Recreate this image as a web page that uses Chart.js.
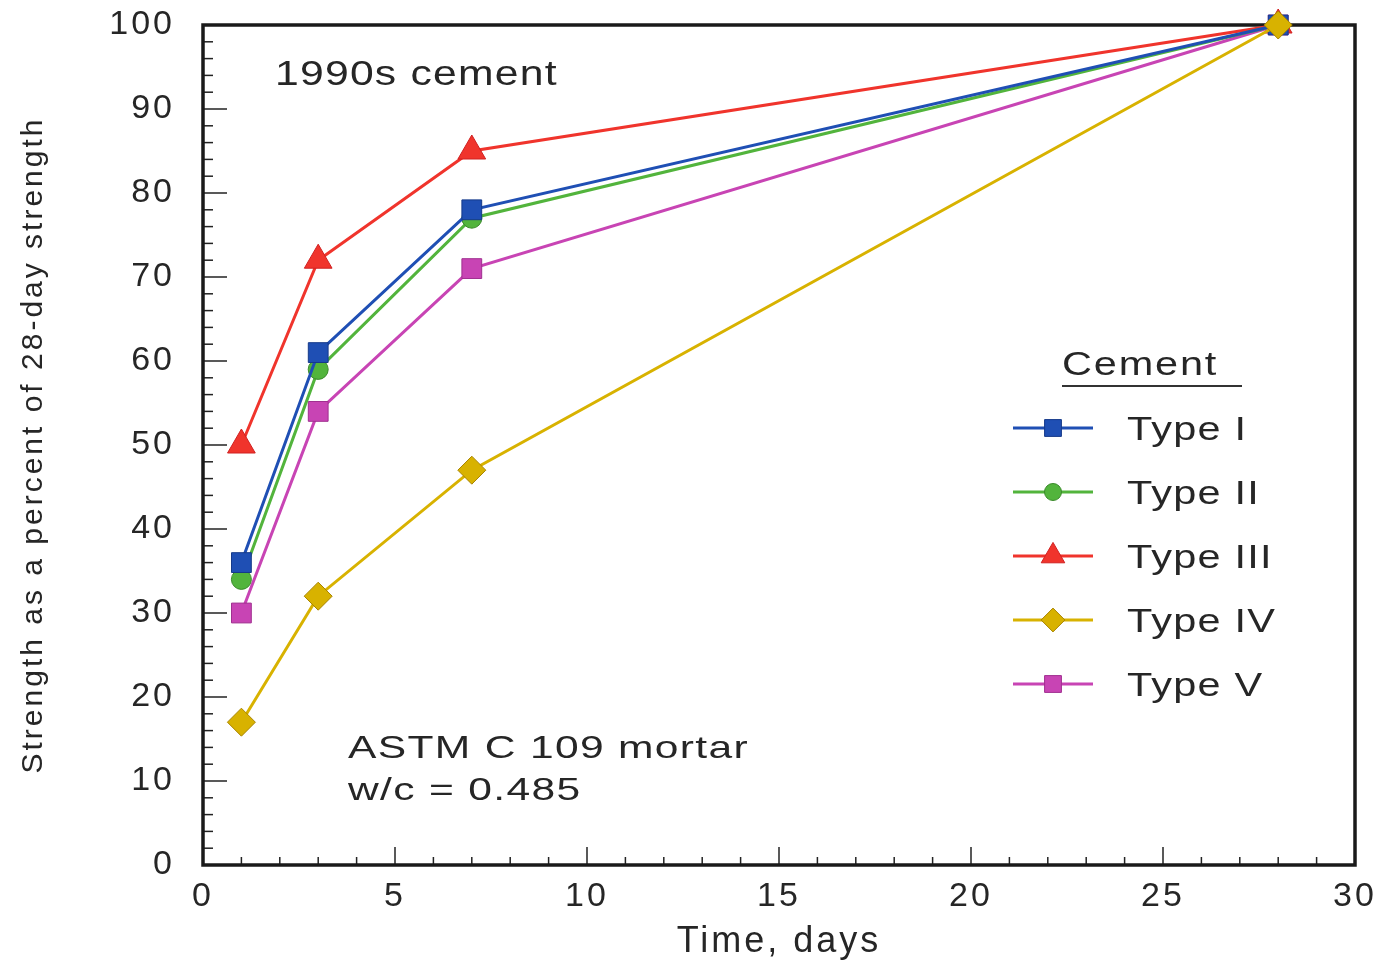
<!DOCTYPE html>
<html>
<head>
<meta charset="utf-8">
<script src="https://cdn.jsdelivr.net/npm/chart.js@4/dist/chart.umd.min.js"></script>
<style>
  html, body { margin: 0; padding: 0; background: #fff; }
  #wrap { width: 1379px; height: 964px; }
</style>
</head>
<body>
<div id="wrap"><canvas id="c" width="1379" height="964"></canvas></div>
<script>
// age of the mortar cubes, days
var days = [1, 3, 7, 28];

// strength as % of 28-day strength
var typeI   = [36, 61, 78, 100];
var typeII  = [34, 59, 77, 100];
var typeIII = [50, 72, 85, 100];
var typeIV  = [17, 32, 47, 100];
var typeV   = [30, 54, 71, 100];

var seriesNames = ["Type I", "Type II", "Type III", "Type IV", "Type V"];
var xTicks = [0, 5, 10, 15, 20, 25, 30];
var yTicks = [0, 10, 20, 30, 40, 50, 60, 70, 80, 90, 100];

var FONT = "'Liberation Sans', Arial, sans-serif";
var INK = "#262626";

function pts(vals) {
  return days.map(function(d, i) { return { x: d, y: vals[i] }; });
}

var styles = [
  { color: "#1f4fb4", border: "#163a8a", shape: "rect", r: 14, order: 1 },
  { color: "#52b43c", border: "#3a8a2a", shape: "circle", r: 10, order: 2 },
  { color: "#f0342c", border: "#d02020", shape: "triangle", r: 16, order: 4 },
  { color: "#d8b200", border: "#a88400", shape: "rectRot", r: 14, order: 0 },
  { color: "#c844b4", border: "#a03090", shape: "rect", r: 14, order: 3 }
];
var allVals = [typeI, typeII, typeIII, typeIV, typeV];

var datasets = allVals.map(function(v, i) {
  var s = styles[i];
  return {
    label: seriesNames[i],
    data: pts(v),
    order: s.order,
    borderColor: s.color,
    backgroundColor: s.color,
    pointBackgroundColor: s.color,
    pointBorderColor: s.border,
    pointBorderWidth: 1,
    pointStyle: s.shape,
    pointRadius: s.r,
    borderWidth: 3,
    tension: 0,
    clip: false
  };
});

function drawShape(ctx, shape, r, x, y) {
  if (Chart.helpers && Chart.helpers.drawPoint) {
    Chart.helpers.drawPoint(ctx, { pointStyle: shape, radius: r, rotation: 0, borderWidth: 1 }, x, y);
    return;
  }
  ctx.beginPath();
  ctx.arc(x, y, r, 0, Math.PI * 2);
  ctx.fill();
  ctx.stroke();
}

// text stretched sideways, like the wide lettering of the scan
function wideText(ctx, txt, x, y, sx) {
  ctx.save();
  ctx.translate(x, y);
  ctx.scale(sx, 1);
  ctx.fillText(txt, 0, 0);
  ctx.restore();
}

var spacing = {
  id: "spacing",
  beforeDraw: function(chart) { chart.ctx.letterSpacing = "3px"; }
};

// box, inside tick marks, annotations and legend
var decor = {
  id: "decor",
  beforeDatasetsDraw: function(chart) {
    var ctx = chart.ctx, a = chart.chartArea;
    var xs = chart.scales.x, ys = chart.scales.y;
    ctx.save();
    ctx.strokeStyle = "#222";
    ctx.lineWidth = 1.5;
    // x ticks: minor every day, major every 5
    for (var d = 1; d < 30; d++) {
      var px = xs.getPixelForValue(d);
      var len = d % 5 === 0 ? 18 : 8;
      ctx.beginPath();
      ctx.moveTo(px, a.bottom);
      ctx.lineTo(px, a.bottom - len);
      ctx.stroke();
    }
    // y ticks: minor every 2, major every 10
    for (var v = 2; v < 100; v += 2) {
      var py = ys.getPixelForValue(v);
      var l = v % 10 === 0 ? 24 : 10;
      ctx.beginPath();
      ctx.moveTo(a.left, py);
      ctx.lineTo(a.left + l, py);
      ctx.stroke();
    }
    ctx.lineWidth = 3.5;
    ctx.strokeStyle = "#1a1a1a";
    ctx.strokeRect(a.left, a.top, a.right - a.left, a.bottom - a.top);

    // annotations
    ctx.fillStyle = INK;
    ctx.textBaseline = "alphabetic";
    ctx.textAlign = "left";
    ctx.letterSpacing = "1px";
    ctx.font = "35px " + FONT;
    wideText(ctx, "1990s cement", 275, 85, 1.22);
    ctx.font = "32px " + FONT;
    wideText(ctx, "ASTM C 109 mortar", 348, 758, 1.33);
    wideText(ctx, "w/c = 0.485", 348, 800, 1.33);

    // legend
    ctx.letterSpacing = "1.5px";
    ctx.font = "34px " + FONT;
    wideText(ctx, "Cement", 1062, 375, 1.22);
    ctx.lineWidth = 2;
    ctx.strokeStyle = "#333";
    ctx.beginPath();
    ctx.moveTo(1062, 386);
    ctx.lineTo(1242, 386);
    ctx.stroke();
    ctx.letterSpacing = "1px";
    chart.data.datasets.forEach(function(ds, i) {
      var y = 428 + i * 64;
      ctx.strokeStyle = ds.borderColor;
      ctx.lineWidth = 3;
      ctx.beginPath();
      ctx.moveTo(1013, y);
      ctx.lineTo(1093, y);
      ctx.stroke();
      ctx.fillStyle = ds.pointBackgroundColor;
      ctx.strokeStyle = ds.pointBorderColor;
      ctx.lineWidth = 1;
      drawShape(ctx, ds.pointStyle, ds.pointRadius * 0.85, 1053, y);
      ctx.fillStyle = INK;
      wideText(ctx, ds.label, 1127, y + 12, 1.22);
    });
    ctx.restore();
  }
};

new Chart(document.getElementById("c"), {
  type: "line",
  data: { datasets: datasets },
  options: {
    responsive: false,
    animation: false,
    layout: { padding: { top: 25, right: 24, left: 0, bottom: 0 } },
    plugins: { legend: { display: false }, tooltip: { enabled: false } },
    scales: {
      x: {
        type: "linear",
        min: 0, max: 30,
        afterFit: function(s) { s.height = 99; s.paddingLeft = 0; s.paddingRight = 0; },
        afterBuildTicks: function(s) { s.ticks = xTicks.map(function(v) { return { value: v }; }); },
        grid: { display: false, drawTicks: false },
        border: { display: false },
        ticks: { color: INK, font: { family: FONT, size: 34 }, padding: 11, maxRotation: 0 },
        title: { display: true, text: "Time, days", color: INK, font: { family: FONT, size: 36 }, padding: { top: 0, bottom: 0 } }
      },
      y: {
        min: 0, max: 100,
        afterFit: function(s) { s.width = 203; s.paddingTop = 0; s.paddingBottom = 0; },
        afterBuildTicks: function(s) { s.ticks = yTicks.map(function(v) { return { value: v }; }); },
        grid: { display: false, drawTicks: false },
        border: { display: false },
        ticks: { color: INK, font: { family: FONT, size: 34 }, padding: 28 },
        title: { display: true, text: "Strength as a percent of 28-day strength", color: INK, font: { family: FONT, size: 30 }, padding: { top: 16, bottom: 0 } }
      }
    }
  },
  plugins: [spacing, decor]
});
</script>
</body>
</html>
